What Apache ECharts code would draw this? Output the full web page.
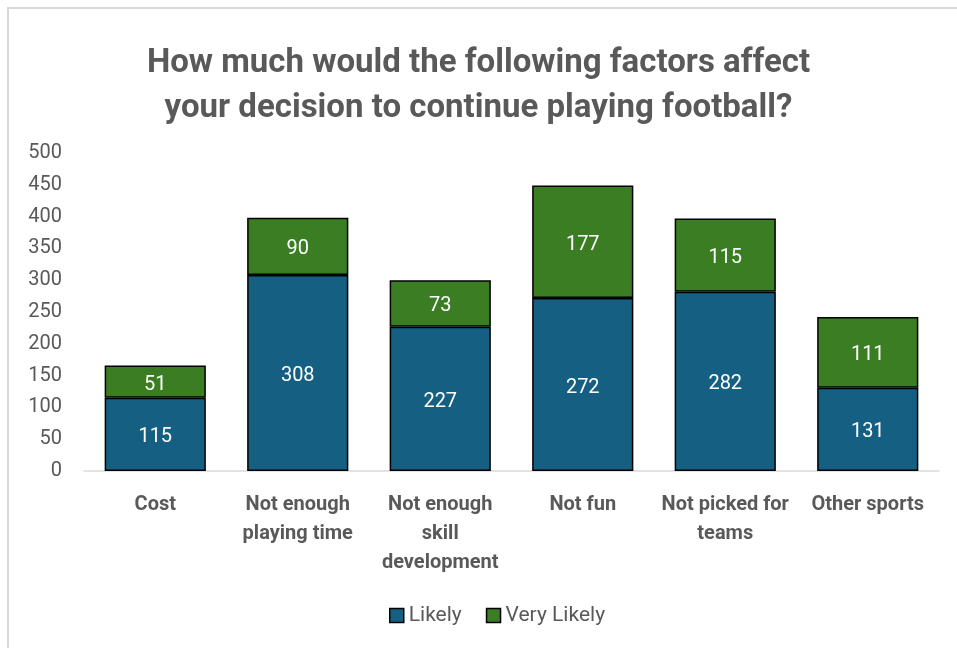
<!DOCTYPE html>
<html>
<head>
<meta charset="utf-8">
<style>
  html, body { margin: 0; padding: 0; background: #ffffff; }
  #chart { width: 957px; height: 648px; }
</style>
<script src="https://cdn.jsdelivr.net/npm/echarts@6/dist/echarts.min.js"></script>
</head>
<body>
<div id="chart"></div>
<script>
// Survey responses per factor
const categories = ['Cost', 'Not enough\nplaying time', 'Not enough\nskill\ndevelopment', 'Not fun', 'Not picked for\nteams', 'Other sports'];
const likely = [115, 308, 227, 272, 282, 131];
const veryLikely = [51, 90, 73, 177, 115, 111];
const yTicks = [0, 50, 100, 150, 200, 250, 300, 350, 400, 450, 500];

const FONT = 'Roboto, "Liberation Sans", sans-serif';
const GREY = '#595959';

const chart = echarts.init(document.getElementById('chart'), null, { renderer: 'canvas' });

const labelStyle = {
  show: true,
  position: 'inside',
  color: '#ffffff',
  fontSize: 20,
  fontFamily: FONT,
  offset: [0, 3]
};

chart.setOption({
  backgroundColor: '#ffffff',
  animation: false,
  title: {
    text: 'How much would the following factors affect\nyour decision to continue playing football?',
    left: 'center',
    top: 36,
    textStyle: {
      fontFamily: FONT,
      fontSize: 33,
      fontWeight: 'bold',
      color: GREY,
      lineHeight: 45
    }
  },
  legend: {
    bottom: 17,
    left: 384,
    icon: 'rect',
    itemWidth: 14,
    itemHeight: 14,
    itemGap: 24,
    textStyle: { fontFamily: FONT, fontSize: 21, color: GREY },
    itemStyle: { borderColor: '#000000', borderWidth: 1.5 },
    data: ['Likely', 'Very Likely']
  },
  graphic: [{
    type: 'polyline',
    shape: { points: [[8, 648], [8, 8], [957, 8]] },
    style: { stroke: '#d9d9d9', lineWidth: 2, fill: null }
  }],
  grid: { left: 84, right: 18, top: 153, bottom: 177 },
  xAxis: {
    type: 'category',
    data: categories,
    axisLine: { lineStyle: { color: '#d9d9d9', width: 1.5 } },
    axisTick: { show: false },
    axisLabel: {
      fontFamily: FONT,
      fontSize: 20,
      fontWeight: 'bold',
      color: GREY,
      lineHeight: 29,
      margin: 19,
      interval: 0
    }
  },
  yAxis: {
    type: 'value',
    min: yTicks[0],
    max: yTicks[yTicks.length - 1],
    interval: 50,
    splitLine: { show: false },
    axisLine: { show: false },
    axisTick: { show: false },
    axisLabel: {
      fontFamily: FONT,
      fontSize: 20,
      color: GREY,
      margin: 22
    }
  },
  series: [
    {
      name: 'Likely',
      type: 'bar',
      stack: 'total',
      barWidth: '71%',
      data: likely,
      itemStyle: { color: '#156082', borderColor: '#000000', borderWidth: 1.5 },
      label: labelStyle
    },
    {
      name: 'Very Likely',
      type: 'bar',
      stack: 'total',
      barWidth: '71%',
      data: veryLikely,
      itemStyle: { color: '#3a7d22', borderColor: '#000000', borderWidth: 1.5 },
      label: labelStyle
    }
  ]
});
</script>
</body>
</html>
